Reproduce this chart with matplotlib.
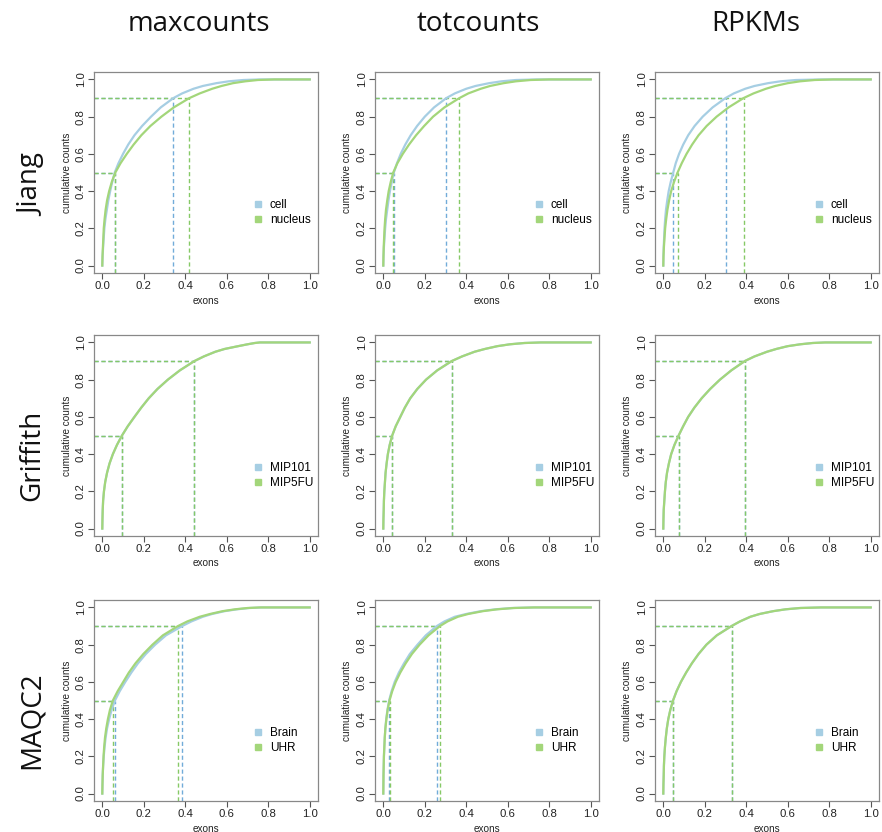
import matplotlib
matplotlib.use("Agg")
import matplotlib.pyplot as plt
from matplotlib.lines import Line2D

# Cumulative share of counts reached, and the fraction of exons needed to reach it
levels = [0.0, 0.05, 0.1, 0.15, 0.2, 0.25, 0.3, 0.35, 0.4, 0.45, 0.5, 0.55, 0.6, 0.65,
          0.7, 0.75, 0.8, 0.85, 0.9, 0.925, 0.95, 0.965, 0.98, 0.99, 0.997, 1.0, 1.0]

methods = ["maxcounts", "totcounts", "RPKMs"]
datasets = ["Jiang", "Griffith", "MAQC2"]
sample_names = {
    "Jiang": ["cell", "nucleus"],
    "Griffith": ["MIP101", "MIP5FU"],
    "MAQC2": ["Brain", "UHR"],
}

# exon fraction at each level
jiang_max_cell = [0, 0.0015, 0.004, 0.007, 0.010, 0.015, 0.022, 0.029, 0.038, 0.048, 0.060, 0.078, 0.100, 0.125,
                  0.155, 0.192, 0.235, 0.282, 0.343, 0.385, 0.440, 0.485, 0.550, 0.610, 0.680, 0.760, 1.0]
jiang_max_nucleus = [0, 0.001, 0.003, 0.005, 0.007, 0.011, 0.016, 0.023, 0.033, 0.046, 0.063, 0.088, 0.118, 0.151,
                     0.188, 0.232, 0.285, 0.345, 0.420, 0.470, 0.530, 0.575, 0.630, 0.690, 0.750, 0.830, 1.0]
jiang_tot_cell = [0, 0.001, 0.003, 0.006, 0.009, 0.013, 0.019, 0.025, 0.032, 0.041, 0.051, 0.066, 0.084, 0.106,
                  0.132, 0.163, 0.200, 0.245, 0.304, 0.345, 0.400, 0.445, 0.510, 0.570, 0.640, 0.740, 1.0]
jiang_tot_nucleus = [0, 0.0008, 0.002, 0.004, 0.006, 0.009, 0.013, 0.019, 0.026, 0.036, 0.048, 0.068, 0.094, 0.124,
                     0.158, 0.197, 0.240, 0.295, 0.367, 0.410, 0.470, 0.515, 0.580, 0.640, 0.710, 0.800, 1.0]
jiang_rpkm_cell = [0, 0.0006, 0.002, 0.004, 0.006, 0.009, 0.013, 0.019, 0.026, 0.036, 0.048, 0.060, 0.076, 0.096,
                   0.120, 0.151, 0.190, 0.238, 0.300, 0.340, 0.395, 0.440, 0.505, 0.565, 0.640, 0.760, 1.0]
jiang_rpkm_nucleus = [0, 0.001, 0.003, 0.006, 0.009, 0.014, 0.020, 0.028, 0.038, 0.052, 0.069, 0.089, 0.112, 0.139,
                      0.170, 0.209, 0.257, 0.315, 0.387, 0.435, 0.495, 0.540, 0.600, 0.660, 0.730, 0.820, 1.0]
griffith_max = [0, 0.0008, 0.002, 0.004, 0.008, 0.014, 0.023, 0.035, 0.051, 0.071, 0.095, 0.123, 0.155, 0.188,
                0.224, 0.266, 0.316, 0.374, 0.444, 0.490, 0.545, 0.590, 0.655, 0.700, 0.735, 0.760, 1.0]
griffith_tot = [0, 0.0007, 0.002, 0.003, 0.005, 0.008, 0.011, 0.016, 0.022, 0.031, 0.043, 0.060, 0.082, 0.104,
                0.130, 0.164, 0.206, 0.260, 0.330, 0.380, 0.440, 0.490, 0.550, 0.610, 0.680, 0.760, 1.0]
griffith_rpkm = [0, 0.0008, 0.002, 0.005, 0.008, 0.012, 0.018, 0.027, 0.038, 0.054, 0.074, 0.096, 0.120, 0.150,
                 0.185, 0.226, 0.273, 0.328, 0.393, 0.440, 0.500, 0.545, 0.600, 0.660, 0.720, 0.780, 1.0]
maqc2_max_brain = [0, 0.001, 0.002, 0.004, 0.007, 0.011, 0.016, 0.023, 0.033, 0.045, 0.061, 0.084, 0.111, 0.140,
                   0.172, 0.210, 0.255, 0.307, 0.385, 0.430, 0.485, 0.530, 0.590, 0.650, 0.710, 0.770, 1.0]
maqc2_max_uhr = [0, 0.0008, 0.002, 0.004, 0.006, 0.009, 0.013, 0.019, 0.027, 0.037, 0.051, 0.074, 0.101, 0.128,
                 0.160, 0.198, 0.242, 0.292, 0.365, 0.410, 0.470, 0.520, 0.580, 0.640, 0.700, 0.760, 1.0]
maqc2_tot_brain = [0, 0.0005, 0.001, 0.002, 0.003, 0.005, 0.007, 0.010, 0.014, 0.020, 0.028, 0.040, 0.055, 0.075,
                   0.100, 0.128, 0.165, 0.205, 0.258, 0.295, 0.345, 0.400, 0.470, 0.540, 0.620, 0.720, 1.0]
maqc2_tot_uhr = [0, 0.0005, 0.001, 0.002, 0.003, 0.005, 0.007, 0.010, 0.015, 0.021, 0.030, 0.043, 0.060, 0.082,
                 0.108, 0.138, 0.175, 0.218, 0.273, 0.310, 0.360, 0.410, 0.480, 0.550, 0.630, 0.730, 1.0]
maqc2_rpkm = [0, 0.0007, 0.002, 0.003, 0.005, 0.008, 0.012, 0.017, 0.024, 0.034, 0.047, 0.064, 0.085, 0.110,
              0.138, 0.170, 0.208, 0.258, 0.329, 0.370, 0.420, 0.465, 0.530, 0.590, 0.660, 0.760, 1.0]

curves = {
    ("Jiang", "maxcounts"): (jiang_max_cell, jiang_max_nucleus),
    ("Jiang", "totcounts"): (jiang_tot_cell, jiang_tot_nucleus),
    ("Jiang", "RPKMs"): (jiang_rpkm_cell, jiang_rpkm_nucleus),
    ("Griffith", "maxcounts"): (griffith_max, griffith_max),
    ("Griffith", "totcounts"): (griffith_tot, griffith_tot),
    ("Griffith", "RPKMs"): (griffith_rpkm, griffith_rpkm),
    ("MAQC2", "maxcounts"): (maqc2_max_brain, maqc2_max_uhr),
    ("MAQC2", "totcounts"): (maqc2_tot_brain, maqc2_tot_uhr),
    ("MAQC2", "RPKMs"): (maqc2_rpkm, maqc2_rpkm),
}

colors = ["#a6cee3", "#a3d67a"]
dash_colors = ["#72acd9", "#86c966"]
marked_levels = [0.5, 0.9]

W, H = 882, 832
fig = plt.figure(figsize=(W / 100, H / 100), dpi=100)

col_left = [94, 375, 655]
col_width = 224
row_top = [72, 335, 600]
row_height = 201

title_x = [199, 478, 756]
row_label_y = [185, 455, 720]

title_font = dict(family=["Open Sans", "DejaVu Sans"], size=20, color="#111111")
small_font = ["Liberation Sans", "DejaVu Sans"]

for j, m in enumerate(methods):
    fig.text(title_x[j] / W, 1 - 24 / H, m, ha="center", va="center", **title_font)
for i, d in enumerate(datasets):
    fig.text(32 / W, 1 - row_label_y[i] / H, d, ha="center", va="center",
             rotation=90, **title_font)

for i, d in enumerate(datasets):
    for j, m in enumerate(methods):
        ax = fig.add_axes([col_left[j] / W, 1 - (row_top[i] + row_height) / H,
                           col_width / W, row_height / H])
        ax.set_xlim(-0.04, 1.04)
        ax.set_ylim(-0.04, 1.04)
        series = curves[(d, m)]
        for k, xs in enumerate(series):
            ax.plot(xs, levels, color=colors[k], lw=1.6, solid_joinstyle="round", zorder=3)
        for k, xs in enumerate(series):
            for lv in marked_levels:
                xv = xs[levels.index(lv)]
                ax.plot([-0.04, xv], [lv, lv], color=dash_colors[k], lw=1.0,
                        ls=(0, (3, 2)), zorder=2)
                ax.plot([xv, xv], [-0.04, lv], color=dash_colors[k], lw=1.0,
                        ls=(0, (3, 2)), zorder=2)

        ticks = [0.0, 0.2, 0.4, 0.6, 0.8, 1.0]
        ax.set_xticks(ticks)
        ax.set_yticks(ticks)
        ax.set_xticklabels([f"{t:.1f}" for t in ticks], family=small_font)
        ax.set_yticklabels([f"{t:.1f}" for t in ticks], rotation=90, va="center",
                           family=small_font)
        ax.tick_params(axis="both", direction="out", length=4, width=0.8,
                       color="#555555", labelsize=8.2, labelcolor="#222222", pad=2)
        for sp in ax.spines.values():
            sp.set_color("#888888")
            sp.set_linewidth(0.9)
        ax.set_xlabel("exons", fontsize=7.2, labelpad=3, color="#222222",
                      family=small_font)
        ax.set_ylabel("cumulative counts", fontsize=7.2, labelpad=3, color="#222222",
                      family=small_font)

        handles = [Line2D([], [], ls="none", marker="s", markersize=4.8,
                          markerfacecolor=c, markeredgecolor=c) for c in colors]
        ax.legend(handles, sample_names[d], loc="center left",
                  bbox_to_anchor=(0.675, 0.30), frameon=False,
                  prop=dict(family=small_font, size=8.5),
                  handlelength=0.8, handletextpad=0.6, labelspacing=0.3,
                  borderpad=0.2)

fig.savefig("out.png", dpi=100)
